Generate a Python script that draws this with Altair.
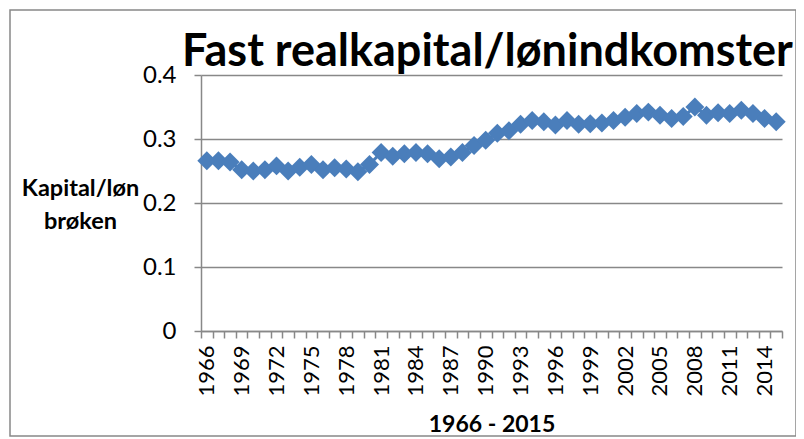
import altair as alt
import pandas as pd

years = list(range(1966, 2016))
values = [0.266, 0.266, 0.264, 0.252, 0.250, 0.252, 0.258, 0.250, 0.256, 0.260,
          0.252, 0.255, 0.253, 0.249, 0.260, 0.279, 0.273, 0.277, 0.279, 0.277,
          0.269, 0.272, 0.279, 0.290, 0.298, 0.309, 0.313, 0.323, 0.329, 0.327,
          0.322, 0.329, 0.323, 0.324, 0.325, 0.329, 0.334, 0.340, 0.342, 0.337,
          0.332, 0.335, 0.350, 0.337, 0.341, 0.340, 0.345, 0.340, 0.332, 0.327]
y_ticks = [0, 0.1, 0.2, 0.3, 0.4]

df = pd.DataFrame({"year": years, "value": values})

FONT = "Lato"
BLUE = "#4A7EBB"
GRAY = "#888888"

x_enc = alt.X("year:O", title="1966 - 2015",
              scale=alt.Scale(paddingInner=0, paddingOuter=0),
              axis=alt.Axis(labelAngle=-90, labelFont=FONT, labelFontSize=22,
                            labelColor="#000000", labelOverlap=False,
                            labelExpr="(datum.value - 1966) % 3 == 0 ? datum.label : ''",
                            labelPadding=7, labelBaseline="middle",
                            tickBand="extent", tickSize=7, tickColor=GRAY, tickWidth=1.5,
                            domainColor=GRAY, domainWidth=1.5, grid=False,
                            titleFont=FONT, titleFontSize=23, titleFontWeight="bold",
                            titleColor="#000000", titlePadding=17))
y_enc = alt.Y("value:Q", title=["Kapital/løn", "brøken"],
              scale=alt.Scale(domain=[0, 0.4], nice=False, zero=True),
              axis=alt.Axis(values=y_ticks, format="~g", labelFont=FONT, labelFontSize=24,
                            labelColor="#000000", labelPadding=18,
                            tickSize=7, tickColor=GRAY, tickWidth=1.5,
                            domainColor=GRAY, domainWidth=1.5,
                            grid=True, gridColor=GRAY, gridWidth=1.5,
                            titleFont=FONT, titleFontSize=23.5, titleFontWeight="bold",
                            titleColor="#000000", titleAngle=0, titleAlign="center",
                            titleBaseline="alphabetic", titleX=-121, titleY=120,
                            titleLineHeight=33))

base = alt.Chart(df).encode(x=x_enc, y=y_enc)
line = base.mark_line(color=BLUE, strokeWidth=3)
pts = base.mark_point(shape="diamond", filled=True, size=360, color=BLUE, opacity=1)

border = alt.Chart(pd.DataFrame({"a": [0]})).mark_rect(
    fill=None, stroke=GRAY, strokeWidth=1.5
).encode(x=alt.value(-191), x2=alt.value(595), y=alt.value(-65), y2=alt.value(361))

chart = alt.layer(border, line, pts).properties(
    width=581, height=256,
    title=alt.TitleParams("Fast realkapital/lønindkomster", font=FONT, fontSize=45,
                          fontWeight="bold", color="#000000", anchor="middle",
                          frame="group", baseline="alphabetic", offset=-102, dx=-4),
    padding={"left": 193, "top": 67, "right": 14, "bottom": 108},
    autosize=alt.AutoSizeParams(type="none"),
).configure_view(stroke=None)

chart.save("out.html", embed_options={"renderer": "svg", "actions": False})
